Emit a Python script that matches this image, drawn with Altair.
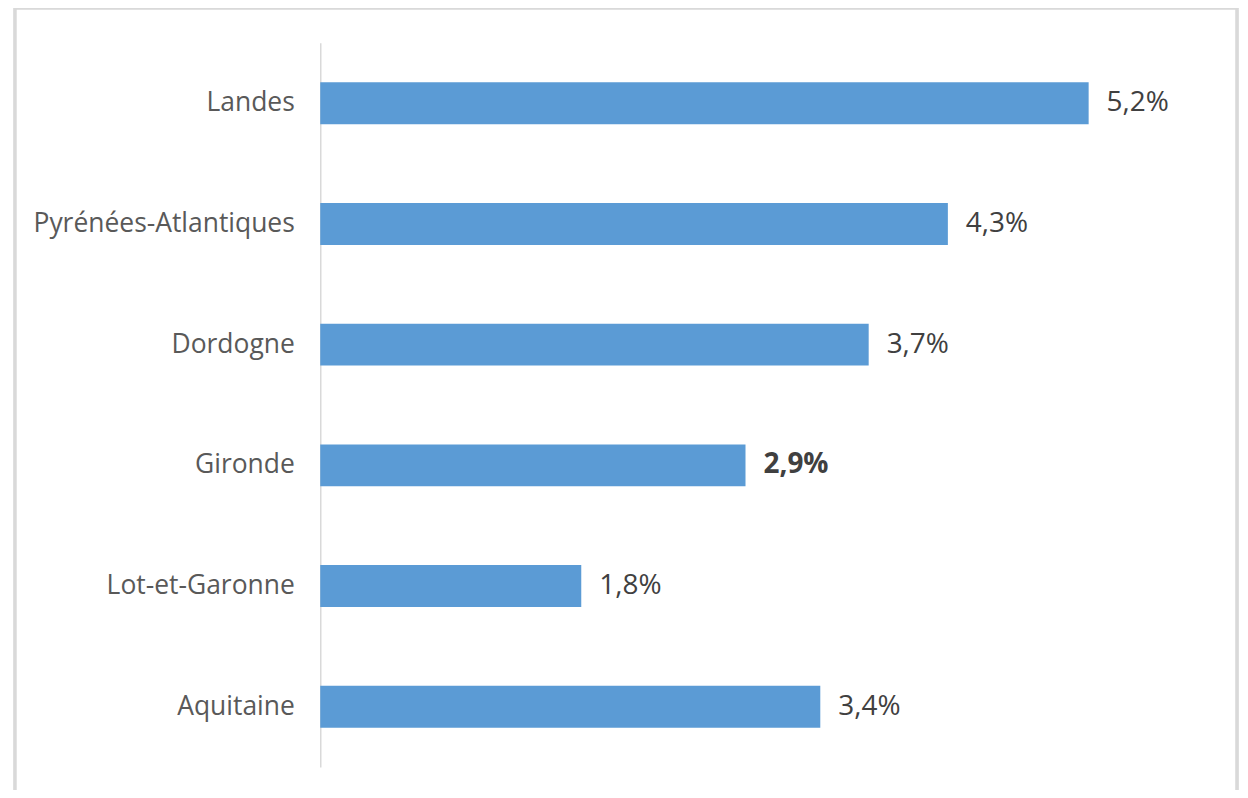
import altair as alt
import pandas as pd

regions = ["Landes", "Pyrénées-Atlantiques", "Dordogne", "Gironde", "Lot-et-Garonne", "Aquitaine"]
values = [5.24, 4.28, 3.74, 2.90, 1.78, 3.41]
labels = ["5,2%", "4,3%", "3,7%", "2,9%", "1,8%", "3,4%"]
bold = [False, False, False, True, False, False]

df = pd.DataFrame({"region": regions, "value": values, "label": labels,
                   "weight": ["bold" if b else "normal" for b in bold]})

FONT = "Open Sans"
TXT = "#595959"
VAL = "#404040"

x = alt.X("value:Q", scale=alt.Scale(domain=[0, 6]), axis=None)
y = alt.Y("region:N", sort=regions, title=None,
          scale=alt.Scale(paddingInner=0.653, paddingOuter=0.327),
          axis=alt.Axis(domain=True, domainColor="#D9D9D9", domainWidth=1.5,
                        ticks=False, labelFontSize=26.5, labelFont=FONT,
                        labelColor=TXT, labelPadding=26, labelLimit=500, grid=False))

border = alt.Chart(df).mark_rect(fill=None, stroke="#D9D9D9", strokeWidth=2.5).encode(
    x=alt.value(-306), x2=alt.value(919), y=alt.value(-35), y2=alt.value(800)
)

bars = alt.Chart(df).mark_bar(color="#5B9BD5").encode(x=x, y=y)

text_normal = alt.Chart(df).transform_filter(alt.datum.weight == "normal").mark_text(
    align="left", baseline="middle", dx=18, fontSize=28, font=FONT, color=VAL
).encode(x=x, y=y, text="label:N")

text_bold = alt.Chart(df).transform_filter(alt.datum.weight == "bold").mark_text(
    align="left", baseline="middle", dx=18, fontSize=28, font=FONT, color=VAL,
    fontWeight="bold"
).encode(x=x, y=y, text="label:N")

chart = alt.layer(border, bars, text_normal, text_bold).properties(
    width=882, height=726,
    background="white",
    autosize=alt.AutoSizeParams(type="none"),
    padding={"left": 313, "top": 34, "right": 40, "bottom": 22},
).configure_view(stroke=None, strokeWidth=0)

chart.save("out.html", embed_options={"renderer": "svg", "actions": False})
